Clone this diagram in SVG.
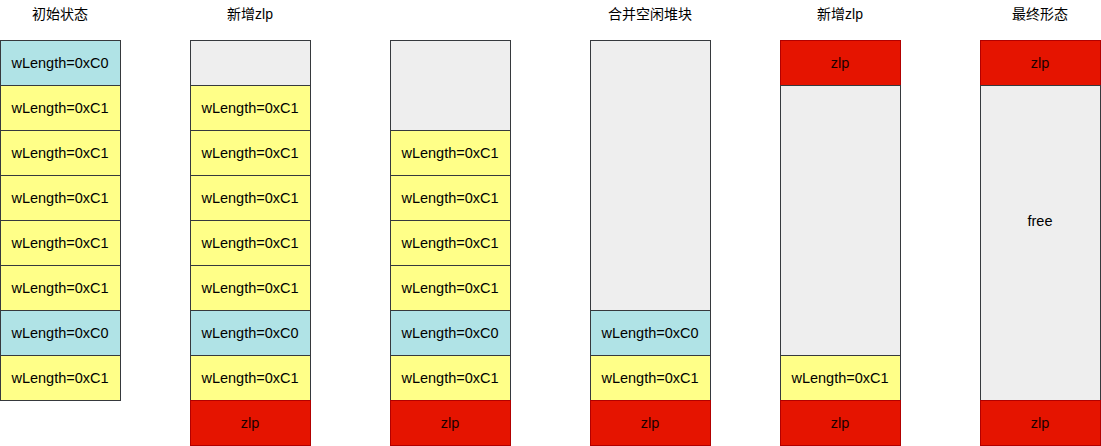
<svg xmlns="http://www.w3.org/2000/svg" width="1101" height="446" viewBox="0 0 1101 446">
<style>
text{font-family:"Liberation Sans",Arial,"Noto Sans CJK SC",sans-serif;font-size:14.5px;fill:#000;text-anchor:middle;dominant-baseline:central}
.c0{fill:#b0e3e6;stroke:#36393d}
.c1{fill:#ffff88;stroke:#36393d}
.g{fill:#eeeeee;stroke:#36393d}
.z{fill:#e51400;stroke:#b20000}
.zt{fill:#1a0000}
.t{font-size:14px}
</style>
<rect width="1101" height="446" fill="#ffffff"/>
<g id="titles">
<text class="t" x="60" y="14">初始状态</text>
<text class="t" x="250" y="14">新增zlp</text>
<text class="t" x="650" y="14">合并空闲堆块</text>
<text class="t" x="840" y="14">新增zlp</text>
<text class="t" x="1040" y="14">最终形态</text>
</g>
<g id="col1">
<rect class="c0" x="0.5" y="40.5" width="120" height="45"/><text x="60" y="63">wLength=0xC0</text>
<rect class="c1" x="0.5" y="85.5" width="120" height="45"/><text x="60" y="108">wLength=0xC1</text>
<rect class="c1" x="0.5" y="130.5" width="120" height="45"/><text x="60" y="153">wLength=0xC1</text>
<rect class="c1" x="0.5" y="175.5" width="120" height="45"/><text x="60" y="198">wLength=0xC1</text>
<rect class="c1" x="0.5" y="220.5" width="120" height="45"/><text x="60" y="243">wLength=0xC1</text>
<rect class="c1" x="0.5" y="265.5" width="120" height="45"/><text x="60" y="288">wLength=0xC1</text>
<rect class="c0" x="0.5" y="310.5" width="120" height="45"/><text x="60" y="333">wLength=0xC0</text>
<rect class="c1" x="0.5" y="355.5" width="120" height="45"/><text x="60" y="378">wLength=0xC1</text>
</g>
<g id="col2">
<rect class="g" x="190.5" y="40.5" width="120" height="45"/>
<rect class="c1" x="190.5" y="85.5" width="120" height="45"/><text x="250" y="108">wLength=0xC1</text>
<rect class="c1" x="190.5" y="130.5" width="120" height="45"/><text x="250" y="153">wLength=0xC1</text>
<rect class="c1" x="190.5" y="175.5" width="120" height="45"/><text x="250" y="198">wLength=0xC1</text>
<rect class="c1" x="190.5" y="220.5" width="120" height="45"/><text x="250" y="243">wLength=0xC1</text>
<rect class="c1" x="190.5" y="265.5" width="120" height="45"/><text x="250" y="288">wLength=0xC1</text>
<rect class="c0" x="190.5" y="310.5" width="120" height="45"/><text x="250" y="333">wLength=0xC0</text>
<rect class="c1" x="190.5" y="355.5" width="120" height="45"/><text x="250" y="378">wLength=0xC1</text>
<rect class="z" x="190.5" y="400.5" width="120" height="45"/><text class="zt" x="250" y="423">zlp</text>
</g>
<g id="col3">
<rect class="g" x="390.5" y="40.5" width="120" height="90"/>
<rect class="c1" x="390.5" y="130.5" width="120" height="45"/><text x="450" y="153">wLength=0xC1</text>
<rect class="c1" x="390.5" y="175.5" width="120" height="45"/><text x="450" y="198">wLength=0xC1</text>
<rect class="c1" x="390.5" y="220.5" width="120" height="45"/><text x="450" y="243">wLength=0xC1</text>
<rect class="c1" x="390.5" y="265.5" width="120" height="45"/><text x="450" y="288">wLength=0xC1</text>
<rect class="c0" x="390.5" y="310.5" width="120" height="45"/><text x="450" y="333">wLength=0xC0</text>
<rect class="c1" x="390.5" y="355.5" width="120" height="45"/><text x="450" y="378">wLength=0xC1</text>
<rect class="z" x="390.5" y="400.5" width="120" height="45"/><text class="zt" x="450" y="423">zlp</text>
</g>
<g id="col4">
<rect class="g" x="590.5" y="40.5" width="120" height="270"/>
<rect class="c0" x="590.5" y="310.5" width="120" height="45"/><text x="650" y="333">wLength=0xC0</text>
<rect class="c1" x="590.5" y="355.5" width="120" height="45"/><text x="650" y="378">wLength=0xC1</text>
<rect class="z" x="590.5" y="400.5" width="120" height="45"/><text class="zt" x="650" y="423">zlp</text>
</g>
<g id="col5">
<rect class="z" x="780.5" y="40.5" width="120" height="45"/><text class="zt" x="840" y="63">zlp</text>
<rect class="g" x="780.5" y="85.5" width="120" height="270"/>
<rect class="c1" x="780.5" y="355.5" width="120" height="45"/><text x="840" y="378">wLength=0xC1</text>
<rect class="z" x="780.5" y="400.5" width="120" height="45"/><text class="zt" x="840" y="423">zlp</text>
</g>
<g id="col6">
<rect class="z" x="980.5" y="40.5" width="120" height="45"/><text class="zt" x="1040" y="63">zlp</text>
<rect class="g" x="980.5" y="85.5" width="120" height="315"/><text x="1040" y="221">free</text>
<rect class="z" x="980.5" y="400.5" width="120" height="45"/><text class="zt" x="1040" y="423">zlp</text>
</g>
<g id="connectors"/>
</svg>
